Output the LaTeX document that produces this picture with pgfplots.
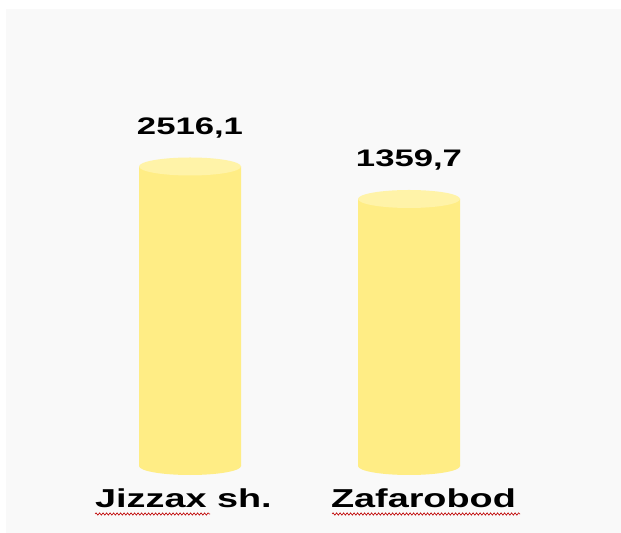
\documentclass[border=0pt]{standalone}
\usepackage{pgfplots}
\pgfplotsset{compat=1.18}
\usepackage{pgfplotstable}
\usepackage{fontspec}
\setmainfont{Liberation Sans}
\usetikzlibrary{decorations.pathmorphing}
\definecolor{bgcol}{RGB}{249,249,249}
\definecolor{body}{RGB}{255,237,133}
\definecolor{topcol}{RGB}{255,243,168}
\pgfdeclareplotmark{cyl}{\pgfpathellipse{\pgfpointorigin}{\pgfpoint{51bp}{0bp}}{\pgfpoint{0bp}{9bp}}\pgfusepathqfill}
\pgfplotstableread{
x v
0 2516.1
1 1359.7
}\datatable
\begin{document}
\begin{tikzpicture}
\useasboundingbox (0,0) rectangle (621bp,533bp);
\fill[bgcol] (6bp,0) rectangle (621bp,523.5bp);
\begin{axis}[
  at={(0,67bp)}, anchor=south west,
  scale only axis, width=621bp, height=466bp,
  xmin=-0.8676, xmax=1.968, ymin=0, ymax=16583,
  axis line style={draw=none}, tick style={draw=none},
  ytick=\empty,
  xtick={-0.03,1.066},
  xticklabels={Jizzax sh., Zafarobod},
  xticklabel={\scalebox{1.46}[1]{\fontsize{26}{26}\selectfont\bfseries\ifcase\ticknum Jizzax sh.\or Zafarobod\fi}},
  xticklabel style={anchor=base, yshift=-41bp, inner sep=0pt},
  clip=false,
]
\addplot[only marks, mark=cyl, mark options={fill=body, draw=none}] table[x=x, y expr=0] {\datatable};
\addplot[ybar, bar width=102bp, bar shift=0pt, draw=none, fill=body] table[x=x, y expr=\thisrow{v}+8142] {\datatable};
\addplot[only marks, mark=cyl, mark options={fill=topcol, draw=none},
  point meta=explicit,
  nodes near coords={\scalebox{1.45}[1]{\fontsize{24}{24}\selectfont\bfseries\pgfmathprintnumber[assume math mode=true, use comma, 1000 sep={}, fixed, fixed zerofill, precision=1]{\pgfplotspointmeta}}},
  every node near coord/.append style={anchor=base, yshift=32bp, inner sep=0pt, text=black}
] table[x=x, y expr=\thisrow{v}+8142, meta=v] {\datatable};
\end{axis}
\draw[red!75!black, line width=0.6bp, decorate, decoration={snake, amplitude=1.2bp, segment length=3.5bp}] (95bp,19bp) -- (210bp,19bp);
\draw[red!75!black, line width=0.6bp, decorate, decoration={snake, amplitude=1.2bp, segment length=3.5bp}] (332bp,19bp) -- (520bp,19bp);
\end{tikzpicture}
\end{document}
